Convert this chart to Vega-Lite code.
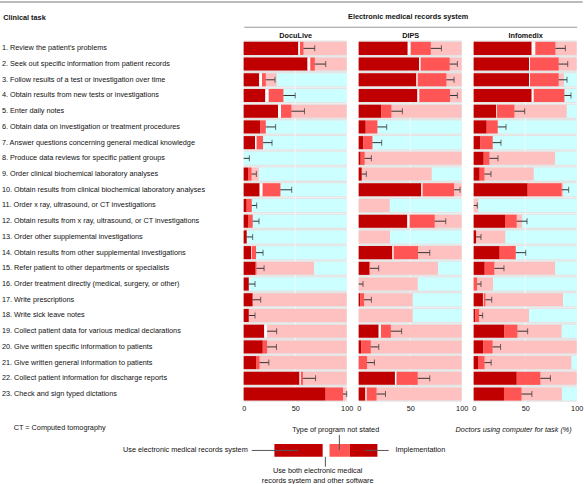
{
  "$schema": "https://vega.github.io/schema/vega-lite/v6.json",
  "padding": {"left": -2.3, "top": 1.5, "right": 0, "bottom": 0},
  "config": {
    "font": "Liberation Sans, Arial, sans-serif",
    "view": {"stroke": null},
    "axis": {"labelColor": "#111111", "titleColor": "#111111", "labelFontWeight": "normal"},
    "title": {"color": "#111111"}
  },
  "datasets": {
    "tasks": [
      {"num": 1, "label": "1. Review the patient's problems"},
      {"num": 2, "label": "2. Seek out specific information from patient records"},
      {"num": 3, "label": "3. Follow results of a test or investigation over time"},
      {"num": 4, "label": "4. Obtain results from new tests or investigations"},
      {"num": 5, "label": "5. Enter daily notes"},
      {"num": 6, "label": "6. Obtain data on investigation or treatment procedures"},
      {"num": 7, "label": "7. Answer questions concerning general medical knowledge"},
      {"num": 8, "label": "8. Produce data reviews for specific patient groups"},
      {"num": 9, "label": "9. Order clinical biochemical laboratory analyses"},
      {"num": 10, "label": "10. Obtain results from clinical biochemical laboratory analyses"},
      {"num": 11, "label": "11. Order x ray, ultrasound, or CT investigations"},
      {"num": 12, "label": "12. Obtain results from x ray, ultrasound, or CT investigations"},
      {"num": 13, "label": "13. Order other supplemental investigations"},
      {"num": 14, "label": "14. Obtain results from other supplemental investigations"},
      {"num": 15, "label": "15. Refer patient to other departments or specialists"},
      {"num": 16, "label": "16. Order treatment directly (medical, surgery, or other)"},
      {"num": 17, "label": "17. Write prescriptions"},
      {"num": 18, "label": "18. Write sick leave notes"},
      {"num": 19, "label": "19. Collect patient data for various medical declarations"},
      {"num": 20, "label": "20. Give written specific information to patients"},
      {"num": 21, "label": "21. Give written general information to patients"},
      {"num": 22, "label": "22. Collect patient information for discharge reports"},
      {"num": 23, "label": "23. Check and sign typed dictations"}
    ],
    "vals": [
      {"sys": "DocuLive", "num": 1, "emr": 53, "both": 1.7, "ns": 3.3, "upper": 69, "impl": 100},
      {"sys": "DocuLive", "num": 2, "emr": 62, "both": 2.7, "ns": 4.3, "upper": 79.6, "impl": 100},
      {"sys": "DocuLive", "num": 3, "emr": 15, "both": 2.8, "ns": 3.6, "upper": 30.4, "impl": 32},
      {"sys": "DocuLive", "num": 4, "emr": 21, "both": 3.3, "ns": 14.2, "upper": 50, "impl": 38.5},
      {"sys": "DocuLive", "num": 5, "emr": 33.3, "both": 2.9, "ns": 10.1, "upper": 59, "impl": 100},
      {"sys": "DocuLive", "num": 6, "emr": 16.2, "both": 0, "ns": 5.2, "upper": 31, "impl": 21.4},
      {"sys": "DocuLive", "num": 7, "emr": 11, "both": 1.6, "ns": 6.2, "upper": 27.5, "impl": 18.8},
      {"sys": "DocuLive", "num": 8, "emr": 0, "both": 0, "ns": 0, "upper": 5.5, "impl": 0},
      {"sys": "DocuLive", "num": 9, "emr": 4.2, "both": 0, "ns": 3.4, "upper": 12.3, "impl": 14.6},
      {"sys": "DocuLive", "num": 10, "emr": 15.5, "both": 2.9, "ns": 17.2, "upper": 46.6, "impl": 35.6},
      {"sys": "DocuLive", "num": 11, "emr": 2.9, "both": 0, "ns": 4.9, "upper": 12.6, "impl": 7.8},
      {"sys": "DocuLive", "num": 12, "emr": 4.2, "both": 0, "ns": 4.5, "upper": 14.9, "impl": 8.7},
      {"sys": "DocuLive", "num": 13, "emr": 2.9, "both": 0, "ns": 0, "upper": 8.7, "impl": 2.9},
      {"sys": "DocuLive", "num": 14, "emr": 7.1, "both": 0.7, "ns": 4.2, "upper": 18.8, "impl": 12},
      {"sys": "DocuLive", "num": 15, "emr": 11.6, "both": 0, "ns": 0.8, "upper": 19.8, "impl": 68.3},
      {"sys": "DocuLive", "num": 16, "emr": 4.9, "both": 0, "ns": 0, "upper": 11, "impl": 4.9},
      {"sys": "DocuLive", "num": 17, "emr": 8.6, "both": 0, "ns": 0, "upper": 16.5, "impl": 100},
      {"sys": "DocuLive", "num": 18, "emr": 4.9, "both": 0, "ns": 0, "upper": 11, "impl": 100},
      {"sys": "DocuLive", "num": 19, "emr": 19.9, "both": 2.8, "ns": 0, "upper": 32, "impl": 100},
      {"sys": "DocuLive", "num": 20, "emr": 18.5, "both": 0, "ns": 4.2, "upper": 31.8, "impl": 100},
      {"sys": "DocuLive", "num": 21, "emr": 12, "both": 0, "ns": 3.3, "upper": 24.4, "impl": 100},
      {"sys": "DocuLive", "num": 22, "emr": 54.2, "both": 1.3, "ns": 2, "upper": 69.8, "impl": 100},
      {"sys": "DocuLive", "num": 23, "emr": 79.5, "both": 0, "ns": 16.9, "upper": 100, "impl": 100},
      {"sys": "DIPS", "num": 1, "emr": 47.6, "both": 2.9, "ns": 19.5, "upper": 80.3, "impl": 100},
      {"sys": "DIPS", "num": 2, "emr": 58.6, "both": 1.6, "ns": 28.1, "upper": 95.8, "impl": 100},
      {"sys": "DIPS", "num": 3, "emr": 56, "both": 1.3, "ns": 27.8, "upper": 92.6, "impl": 100},
      {"sys": "DIPS", "num": 4, "emr": 57, "both": 1.9, "ns": 29.8, "upper": 95.8, "impl": 100},
      {"sys": "DIPS", "num": 5, "emr": 22, "both": 0, "ns": 9.7, "upper": 42.4, "impl": 100},
      {"sys": "DIPS", "num": 6, "emr": 6.8, "both": 0, "ns": 11.3, "upper": 27.2, "impl": 18.1},
      {"sys": "DIPS", "num": 7, "emr": 4.5, "both": 0, "ns": 8.8, "upper": 22.3, "impl": 13.3},
      {"sys": "DIPS", "num": 8, "emr": 1.9, "both": 0, "ns": 3.9, "upper": 12.3, "impl": 100},
      {"sys": "DIPS", "num": 9, "emr": 2.9, "both": 0, "ns": 0, "upper": 7.4, "impl": 70.9},
      {"sys": "DIPS", "num": 10, "emr": 60.8, "both": 1.3, "ns": 30.5, "upper": 98.4, "impl": 100},
      {"sys": "DIPS", "num": 11, "emr": 0, "both": 0, "ns": 0, "upper": null, "impl": 30.1},
      {"sys": "DIPS", "num": 12, "emr": 47.2, "both": 2.3, "ns": 24.3, "upper": 84.5, "impl": 100},
      {"sys": "DIPS", "num": 13, "emr": 0, "both": 0, "ns": 0, "upper": null, "impl": 30.4},
      {"sys": "DIPS", "num": 14, "emr": 32.7, "both": 1.3, "ns": 23.6, "upper": 69, "impl": 100},
      {"sys": "DIPS", "num": 15, "emr": 10, "both": 0, "ns": 1, "upper": 19.4, "impl": 77},
      {"sys": "DIPS", "num": 16, "emr": 0, "both": 0, "ns": 0, "upper": 4.2, "impl": 57.3},
      {"sys": "DIPS", "num": 17, "emr": 1.6, "both": 0, "ns": 3.6, "upper": 12.3, "impl": 52.4},
      {"sys": "DIPS", "num": 18, "emr": 0, "both": 0, "ns": 0, "upper": null, "impl": 52.4},
      {"sys": "DIPS", "num": 19, "emr": 19.4, "both": 2.2, "ns": 9.6, "upper": 41.7, "impl": 100},
      {"sys": "DIPS", "num": 20, "emr": 2.6, "both": 0, "ns": 9.1, "upper": 19.5, "impl": 100},
      {"sys": "DIPS", "num": 21, "emr": 0, "both": 0, "ns": 8.1, "upper": 15.3, "impl": 100},
      {"sys": "DIPS", "num": 22, "emr": 35.2, "both": 1.6, "ns": 20.5, "upper": 69, "impl": 100},
      {"sys": "DIPS", "num": 23, "emr": 6.5, "both": 1.3, "ns": 9.5, "upper": 26, "impl": 100},
      {"sys": "Infomedix", "num": 1, "emr": 56.3, "both": 3.6, "ns": 19.4, "upper": 89, "impl": 100},
      {"sys": "Infomedix", "num": 2, "emr": 53.7, "both": 1, "ns": 27.8, "upper": 91.3, "impl": 100},
      {"sys": "Infomedix", "num": 3, "emr": 53.7, "both": 1, "ns": 27.8, "upper": 90.6, "impl": 87.7},
      {"sys": "Infomedix", "num": 4, "emr": 56.3, "both": 2, "ns": 29.7, "upper": 94.5, "impl": 88},
      {"sys": "Infomedix", "num": 5, "emr": 22, "both": 0.7, "ns": 16.8, "upper": 49.5, "impl": 90.3},
      {"sys": "Infomedix", "num": 6, "emr": 12.6, "both": 0, "ns": 10.7, "upper": 31.4, "impl": 23.3},
      {"sys": "Infomedix", "num": 7, "emr": 6.5, "both": 0, "ns": 11.9, "upper": 26.5, "impl": 18.4},
      {"sys": "Infomedix", "num": 8, "emr": 9.7, "both": 0, "ns": 5.5, "upper": 23.6, "impl": 79},
      {"sys": "Infomedix", "num": 9, "emr": 5.8, "both": 0, "ns": 4.6, "upper": 16.8, "impl": 58.3},
      {"sys": "Infomedix", "num": 10, "emr": 52.4, "both": 0, "ns": 33, "upper": 92.2, "impl": 87},
      {"sys": "Infomedix", "num": 11, "emr": 0, "both": 0, "ns": 0, "upper": 3.5, "impl": 4.5},
      {"sys": "Infomedix", "num": 12, "emr": 30.4, "both": 0, "ns": 11.3, "upper": 51.8, "impl": 47},
      {"sys": "Infomedix", "num": 13, "emr": 2.3, "both": 0, "ns": 0, "upper": 7.1, "impl": 30.7},
      {"sys": "Infomedix", "num": 14, "emr": 25.2, "both": 0, "ns": 15.6, "upper": 50.5, "impl": 40.8},
      {"sys": "Infomedix", "num": 15, "emr": 10.7, "both": 0, "ns": 9.3, "upper": 29.4, "impl": 79},
      {"sys": "Infomedix", "num": 16, "emr": 0, "both": 0, "ns": 3.2, "upper": 7.1, "impl": 18.8},
      {"sys": "Infomedix", "num": 17, "emr": 9, "both": 0.7, "ns": 1.6, "upper": 17.5, "impl": 86.7},
      {"sys": "Infomedix", "num": 18, "emr": 1.6, "both": 0, "ns": 3.6, "upper": 8.7, "impl": 53.7},
      {"sys": "Infomedix", "num": 19, "emr": 29.8, "both": 0, "ns": 12.6, "upper": 52.4, "impl": 85.3},
      {"sys": "Infomedix", "num": 20, "emr": 9.2, "both": 0, "ns": 9.1, "upper": 26.1, "impl": 100},
      {"sys": "Infomedix", "num": 21, "emr": 4.2, "both": 0, "ns": 6.3, "upper": 17, "impl": 94.8},
      {"sys": "Infomedix", "num": 22, "emr": 41.8, "both": 0, "ns": 22.9, "upper": 74.5, "impl": 100},
      {"sys": "Infomedix", "num": 23, "emr": 29.4, "both": 0, "ns": 17, "upper": 56.5, "impl": 85.6}
    ]
  },
  "spacing": 10,
  "vconcat": [
    {
      "width": 339,
      "height": 1,
      "data": {"values": [{"a": 1}]},
      "mark": {"type": "rule", "color": "#777777", "strokeWidth": 1},
      "encoding": {
        "x": {"datum": -237.9, "type": "quantitative", "scale": {"domain": [0, 329.13], "nice": false, "zero": false}, "axis": null},
        "x2": {"datum": 329.13},
        "y": {"datum": 0.5, "type": "quantitative", "scale": {"domain": [0, 1]}, "axis": null}
      }
    },
    {
      "spacing": 0,
      "bounds": "flush",
      "hconcat": [
        {
          "width": 115,
          "height": 361.4,
          "data": {"name": "vals"},
          "transform": [
            {"filter": "datum.sys === 'DocuLive'"},
            {"lookup": "num", "from": {"data": {"name": "tasks"}, "key": "num", "fields": ["label"]}}
          ],
          "encoding": {
            "y": {
              "field": "label", "type": "nominal", "sort": {"field": "num", "op": "min"},
              "scale": {"paddingInner": 0.17, "paddingOuter": 0.085},
              "axis": {
                "title": "Clinical task", "titleAngle": 0, "titleAlign": "left", "titleBaseline": "middle",
                "titleX": -241, "titleY": -23.5, "titleFontWeight": "bold", "titleFontSize": 7.3,
                "labelAlign": "left", "labelPadding": 242.3, "labelFontSize": 7.3, "labelLimit": 400,
                "domain": false, "ticks": false,
                "labelExpr": "(indexof(datum.value, '.') < 2 ? '\u2007' : '') + datum.value"
              }
            }
          },
          "layer": [
            {
              "mark": {"type": "bar", "color": "#e4e4e4", "height": {"band": 1.2}},
              "encoding": {"x": {"datum": 100, "type": "quantitative",
                "scale": {"domain": [0, 111.65], "nice": false},
                "axis": {"orient": "bottom", "values": [0, 50, 100], "domain": false, "ticks": false, "grid": false, "labelFlush": false, "labelPadding": 2.7, "labelFontSize": 7.3, "title": null}}}
            },
            {
              "mark": {"type": "bar", "color": "#ccffff"},
              "encoding": {"x": {"datum": 100, "type": "quantitative", "axis": null}}
            },
            {
              "mark": {"type": "tick", "color": "#ffffff", "thickness": 1, "size": 15.8},
              "encoding": {"x": {"datum": 50, "type": "quantitative",
                "axis": {"orient": "top", "offset": 13.75, "domain": true, "domainColor": "#999999", "domainWidth": 1, "ticks": false, "labels": false, "grid": false,
                  "title": "DocuLive", "titleFontWeight": "bold", "titleFontSize": 7.3, "titleX": 51.5, "titleY": 8.6, "titleAlign": "center", "titleBaseline": "middle"}}}
            },
            {
              "mark": {"type": "bar", "color": "#ffc0c0"},
              "encoding": {"x": {"field": "impl", "type": "quantitative", "axis": null}}
            },
            {
              "transform": [
                {"fold": ["emr", "both", "ns"], "as": ["cat", "val"]},
                {"calculate": "datum.cat === 'emr' ? 0 : datum.cat === 'both' ? 1 : 2", "as": "ord"}
              ],
              "mark": {"type": "bar"},
              "encoding": {
                "x": {"field": "val", "type": "quantitative", "stack": "zero", "axis": null},
                "color": {"field": "cat", "type": "nominal", "scale": {"domain": ["emr", "both", "ns"], "range": ["#c00000", "#ffffff", "#ff5555"]}, "legend": null},
                "order": {"field": "ord", "type": "quantitative"}
              }
            },
            {
              "transform": [{"filter": "datum.upper != null"}, {"calculate": "datum.emr + datum.both + datum.ns", "as": "total"}],
              "mark": {"type": "rule", "color": "#333333", "strokeWidth": 1},
              "encoding": {"x": {"field": "total", "type": "quantitative", "axis": null}, "x2": {"field": "upper"}}
            },
            {
              "transform": [{"filter": "datum.upper != null"}],
              "mark": {"type": "tick", "color": "#333333", "thickness": 1, "size": 6},
              "encoding": {"x": {"field": "upper", "type": "quantitative", "axis": null}}
            }
          ],
          "resolve": {"axis": {"x": "independent"}}
        },
        {
          "width": 115,
          "height": 361.4,
          "title": {"text": "Electronic medical records system", "fontSize": 7.3, "fontWeight": "bold", "offset": 6, "dx": -8, "anchor": "middle"},
          "data": {"name": "vals"},
          "transform": [
            {"filter": "datum.sys === 'DIPS'"},
            {"lookup": "num", "from": {"data": {"name": "tasks"}, "key": "num", "fields": ["label"]}}
          ],
          "encoding": {
            "y": {"field": "label", "type": "nominal", "sort": {"field": "num", "op": "min"},
              "scale": {"paddingInner": 0.17, "paddingOuter": 0.085}, "axis": null}
          },
          "layer": [
            {
              "mark": {"type": "bar", "color": "#e4e4e4", "height": {"band": 1.2}},
              "encoding": {"x": {"datum": 100, "type": "quantitative",
                "scale": {"domain": [0, 111.65], "nice": false},
                "axis": {"orient": "bottom", "values": [0, 50, 100], "domain": false, "ticks": false, "grid": false, "labelFlush": false, "labelPadding": 2.7, "labelFontSize": 7.3, "title": null}}}
            },
            {
              "mark": {"type": "bar", "color": "#ccffff"},
              "encoding": {"x": {"datum": 100, "type": "quantitative", "axis": null}}
            },
            {
              "mark": {"type": "tick", "color": "#ffffff", "thickness": 1, "size": 15.8},
              "encoding": {"x": {"datum": 50, "type": "quantitative",
                "axis": {"orient": "top", "offset": 13.75, "domain": true, "domainColor": "#999999", "domainWidth": 1, "ticks": false, "labels": false, "grid": false,
                  "title": "DIPS", "titleFontWeight": "bold", "titleFontSize": 7.3, "titleX": 51.5, "titleY": 8.6, "titleAlign": "center", "titleBaseline": "middle"}}}
            },
            {
              "mark": {"type": "bar", "color": "#ffc0c0"},
              "encoding": {"x": {"field": "impl", "type": "quantitative", "axis": null}}
            },
            {
              "transform": [
                {"fold": ["emr", "both", "ns"], "as": ["cat", "val"]},
                {"calculate": "datum.cat === 'emr' ? 0 : datum.cat === 'both' ? 1 : 2", "as": "ord"}
              ],
              "mark": {"type": "bar"},
              "encoding": {
                "x": {"field": "val", "type": "quantitative", "stack": "zero", "axis": null},
                "color": {"field": "cat", "type": "nominal", "scale": {"domain": ["emr", "both", "ns"], "range": ["#c00000", "#ffffff", "#ff5555"]}, "legend": null},
                "order": {"field": "ord", "type": "quantitative"}
              }
            },
            {
              "transform": [{"filter": "datum.upper != null"}, {"calculate": "datum.emr + datum.both + datum.ns", "as": "total"}],
              "mark": {"type": "rule", "color": "#333333", "strokeWidth": 1},
              "encoding": {"x": {"field": "total", "type": "quantitative", "axis": null}, "x2": {"field": "upper"}}
            },
            {
              "transform": [{"filter": "datum.upper != null"}],
              "mark": {"type": "tick", "color": "#333333", "thickness": 1, "size": 6},
              "encoding": {"x": {"field": "upper", "type": "quantitative", "axis": null}}
            }
          ],
          "resolve": {"axis": {"x": "independent"}}
        },
        {
          "width": 103,
          "height": 361.4,
          "data": {"name": "vals"},
          "transform": [
            {"filter": "datum.sys === 'Infomedix'"},
            {"lookup": "num", "from": {"data": {"name": "tasks"}, "key": "num", "fields": ["label"]}}
          ],
          "encoding": {
            "y": {"field": "label", "type": "nominal", "sort": {"field": "num", "op": "min"},
              "scale": {"paddingInner": 0.17, "paddingOuter": 0.085}, "axis": null}
          },
          "layer": [
            {
              "mark": {"type": "bar", "color": "#e4e4e4", "height": {"band": 1.2}},
              "encoding": {"x": {"datum": 100, "type": "quantitative",
                "scale": {"domain": [0, 100], "nice": false},
                "axis": {"orient": "bottom", "values": [0, 50, 100], "domain": false, "ticks": false, "grid": false, "labelFlush": false, "labelPadding": 2.7, "labelFontSize": 7.3, "title": null}}}
            },
            {
              "mark": {"type": "bar", "color": "#ccffff"},
              "encoding": {"x": {"datum": 100, "type": "quantitative", "axis": null}}
            },
            {
              "mark": {"type": "tick", "color": "#ffffff", "thickness": 1, "size": 15.8},
              "encoding": {"x": {"datum": 50, "type": "quantitative",
                "axis": {"orient": "top", "offset": 13.75, "domain": true, "domainColor": "#999999", "domainWidth": 1, "ticks": false, "labels": false, "grid": false,
                  "title": "Infomedix", "titleFontWeight": "bold", "titleFontSize": 7.3, "titleX": 51.5, "titleY": 8.6, "titleAlign": "center", "titleBaseline": "middle"}}}
            },
            {
              "mark": {"type": "bar", "color": "#ffc0c0"},
              "encoding": {"x": {"field": "impl", "type": "quantitative", "axis": null}}
            },
            {
              "transform": [
                {"fold": ["emr", "both", "ns"], "as": ["cat", "val"]},
                {"calculate": "datum.cat === 'emr' ? 0 : datum.cat === 'both' ? 1 : 2", "as": "ord"}
              ],
              "mark": {"type": "bar"},
              "encoding": {
                "x": {"field": "val", "type": "quantitative", "stack": "zero", "axis": null},
                "color": {"field": "cat", "type": "nominal", "scale": {"domain": ["emr", "both", "ns"], "range": ["#c00000", "#ffffff", "#ff5555"]}, "legend": null},
                "order": {"field": "ord", "type": "quantitative"}
              }
            },
            {
              "transform": [{"filter": "datum.upper != null"}, {"calculate": "datum.emr + datum.both + datum.ns", "as": "total"}],
              "mark": {"type": "rule", "color": "#333333", "strokeWidth": 1},
              "encoding": {"x": {"field": "total", "type": "quantitative", "axis": null}, "x2": {"field": "upper"}}
            },
            {
              "transform": [{"filter": "datum.upper != null"}],
              "mark": {"type": "tick", "color": "#333333", "thickness": 1, "size": 6},
              "encoding": {"x": {"field": "upper", "type": "quantitative", "axis": null}}
            }
          ],
          "resolve": {"axis": {"x": "independent"}}
        }
      ]
    },
    {
      "width": 339,
      "height": 63.24,
      "layer": [
        {
          "data": {"values": [
            {"part": "emr", "x": 0, "x2": 47},
            {"part": "both", "x": 47, "x2": 53.5},
            {"part": "ns", "x": 53.5, "x2": 73.3},
            {"part": "impl", "x": 73.3, "x2": 100}
          ]},
          "mark": {"type": "rect"},
          "encoding": {
            "x": {"field": "x", "type": "quantitative", "scale": {"domain": [-29.81, 299.32], "nice": false, "zero": false}, "axis": null},
            "x2": {"field": "x2"},
            "y": {"datum": 0.686, "type": "quantitative", "scale": {"domain": [-0.37, 2.73], "reverse": true, "nice": false, "zero": false}, "axis": null},
            "y2": {"datum": 1.304},
            "color": {"field": "part", "type": "nominal", "scale": {"domain": ["emr", "both", "ns", "impl"], "range": ["#c00000", "#ffffff", "#ff5555", "#ffc0c0"]}, "legend": null}
          }
        },
        {
          "data": {"values": [
            {"x": -22, "x2": 23.6, "y": 1, "y2": 1},
            {"x": 63.1, "x2": 63.1, "y": 0.24, "y2": 0.98},
            {"x": 87.7, "x2": 111, "y": 1, "y2": 1},
            {"x": 49.5, "x2": 49.5, "y": 1.31, "y2": 1.8}
          ]},
          "mark": {"type": "rule", "color": "#555555", "strokeWidth": 1},
          "encoding": {
            "x": {"field": "x", "type": "quantitative"}, "x2": {"field": "x2"},
            "y": {"field": "y", "type": "quantitative"}, "y2": {"field": "y2"}
          }
        },
        {
          "data": {"values": [{"text": "Use electronic medical records system", "x": -25.9, "y": 1}]},
          "mark": {"type": "text", "align": "right", "baseline": "middle", "fontSize": 7.3, "color": "#111111"},
          "encoding": {"x": {"field": "x", "type": "quantitative"}, "y": {"field": "y", "type": "quantitative"}, "text": {"field": "text"}}
        },
        {
          "data": {"values": [
            {"text": "Type of program not stated", "x": 59.5, "y": 0},
            {"text": "Use both electronic medical", "x": 42, "y": 2},
            {"text": "records system and other software", "x": 42, "y": 2.5}
          ]},
          "mark": {"type": "text", "align": "center", "baseline": "middle", "fontSize": 7.3, "color": "#111111"},
          "encoding": {"x": {"field": "x", "type": "quantitative"}, "y": {"field": "y", "type": "quantitative"}, "text": {"field": "text"}}
        },
        {
          "data": {"values": [
            {"text": "Implementation", "x": 117.5, "y": 1},
            {"text": "CT = Computed tomography", "x": -253.1, "y": -0.11}
          ]},
          "mark": {"type": "text", "align": "left", "baseline": "middle", "fontSize": 7.3, "color": "#111111"},
          "encoding": {"x": {"field": "x", "type": "quantitative"}, "y": {"field": "y", "type": "quantitative"}, "text": {"field": "text"}}
        },
        {
          "data": {"values": [{"text": "Doctors using computer for task (%)", "x": 232.3, "y": 0}]},
          "mark": {"type": "text", "align": "center", "baseline": "middle", "fontSize": 7.3, "fontStyle": "italic", "color": "#111111"},
          "encoding": {"x": {"field": "x", "type": "quantitative"}, "y": {"field": "y", "type": "quantitative"}, "text": {"field": "text"}}
        }
      ]
    }
  ]
}
